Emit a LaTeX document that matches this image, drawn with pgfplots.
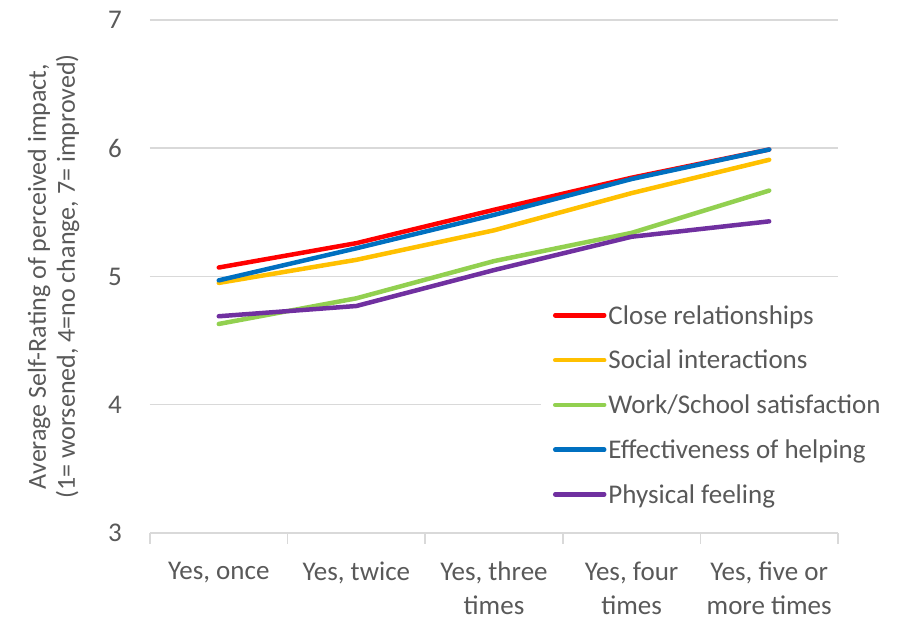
\documentclass[border=0pt]{standalone}
\usepackage{pgfplots}
\pgfplotsset{compat=1.18}
\usepackage{fontspec}
\setmainfont{Carlito}

\definecolor{txt}{HTML}{595959}
\definecolor{gridc}{HTML}{D9D9D9}
\definecolor{cRed}{HTML}{FF0000}
\definecolor{cYellow}{HTML}{FFC000}
\definecolor{cGreen}{HTML}{92D050}
\definecolor{cBlue}{HTML}{0070C0}
\definecolor{cPurple}{HTML}{7030A0}

\begin{document}
\begin{tikzpicture}
\useasboundingbox (-150pt,-87pt) rectangle (766pt,533pt);
\begin{axis}[
  at={(0pt,0pt)}, anchor=south west,
  scale only axis, width=688pt, height=513pt,
  xmin=-0.5, xmax=4.5, ymin=3, ymax=7,
  axis x line*=bottom, axis y line*=left,
  y axis line style={draw=none},
  x axis line style={gridc, line width=1.5pt},
  /pgf/number format/assume math mode=true,
  ytick={3,4,5,6,7},
  ytick style={draw=none},
  ymajorgrids, grid style={gridc, line width=1.5pt},
  xtick={0,1,2,3,4},
  major tick length=0pt,
  xticklabels={{Yes, once},{Yes, twice},{Yes, three\\times},{Yes, four\\times},{Yes, five or\\more times}},
  extra x ticks={-0.5,0.5,1.5,2.5,3.5,4.5},
  extra x tick labels={},
  extra x tick style={major tick length=11pt, tick align=outside,
    tick style={gridc, line width=1.5pt}, grid=none},
  xticklabel style={align=center, anchor=north, inner sep=0pt, yshift=-29pt,
    font=\fontsize{27}{34}\selectfont, text=txt},
  yticklabel style={anchor=east, inner sep=0pt, xshift=-28pt,
    font=\fontsize{27}{35}\selectfont, text=txt},
  ylabel={Average Self-Rating of perceived impact,\\(1= worsened, 4=no change, 7= improved)},
  every axis y label/.style={at={(axis description cs:-0.1403,0.5)}, rotate=90,
    anchor=center, align=center, font=\fontsize{26}{29}\selectfont, text=txt},
  every axis plot/.append style={line width=4.5pt, line cap=round, line join=round},
  legend cell align=left,
  legend image code/.code={\draw[#1, line width=4.5pt, line cap=round] (0pt,0pt) -- (49pt,0pt);},
  legend style={at={(axis description cs:0.568,0.456)}, anchor=north west,
    draw=none, fill=white, font=\fontsize{27}{35}\selectfont, text=txt,
    inner xsep=12pt, inner ysep=4pt, row sep=20.5pt},
]
\addplot[cRed] coordinates {(0,5.07) (1,5.26) (2,5.52) (3,5.77) (4,5.99)};
\addlegendentry{Close relationships}
\addplot[cYellow] coordinates {(0,4.95) (1,5.13) (2,5.36) (3,5.65) (4,5.91)};
\addlegendentry{Social interactions}
\addplot[cGreen] coordinates {(0,4.63) (1,4.83) (2,5.12) (3,5.34) (4,5.67)};
\addlegendentry{Work/School satisfaction}
\addplot[cBlue] coordinates {(0,4.97) (1,5.22) (2,5.48) (3,5.76) (4,5.99)};
\addlegendentry{Effectiveness of helping}
\addplot[cPurple] coordinates {(0,4.69) (1,4.77) (2,5.05) (3,5.31) (4,5.43)};
\addlegendentry{Physical feeling}
\end{axis}
\end{tikzpicture}
\end{document}
